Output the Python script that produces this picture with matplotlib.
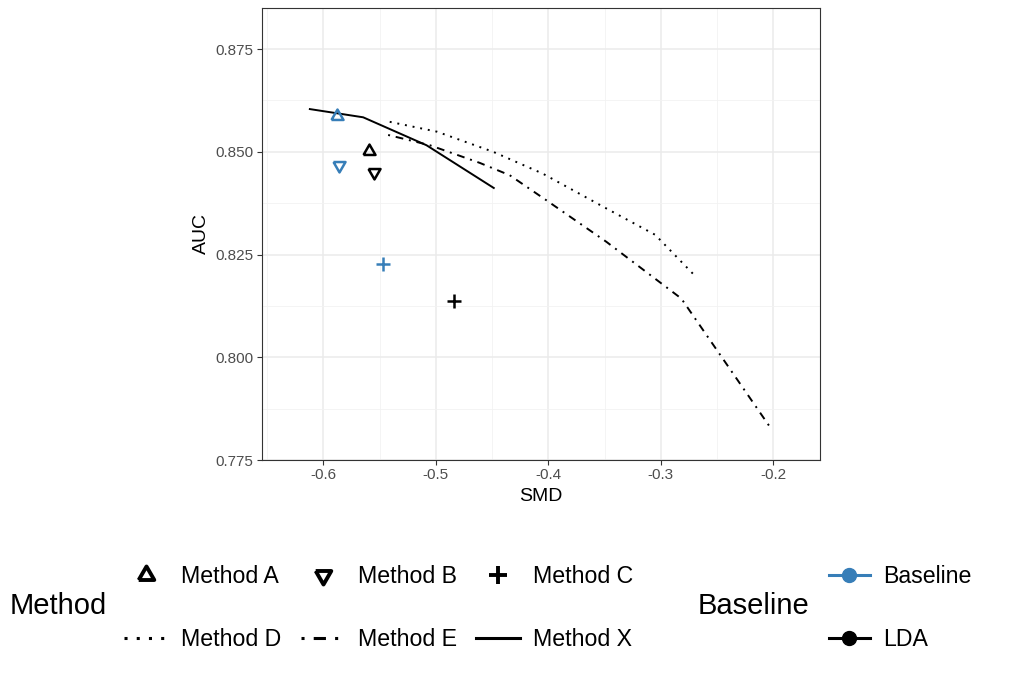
import matplotlib
matplotlib.use("Agg")
import matplotlib.pyplot as plt
from matplotlib.lines import Line2D
import numpy as np

plt.rcParams['font.family'] = ['Liberation Sans', 'DejaVu Sans']

# ---------------- data ----------------
# single-point methods: (SMD, AUC) for each baseline
point_methods = ["Method A", "Method B", "Method C"]
baseline_smd = [-0.5877, -0.5861, -0.5473]
baseline_auc = [0.8587, 0.8469, 0.8228]
lda_smd = [-0.5592, -0.5551, -0.4837]
lda_auc = [0.8502, 0.8451, 0.8137]

# curve methods
methodD_smd = [-0.541, -0.499, -0.449, -0.405, -0.351, -0.305, -0.2685]
methodD_auc = [0.8573, 0.8549, 0.8500, 0.8447, 0.8366, 0.8298, 0.8195]
methodE_smd = [-0.5424, -0.5053, -0.4609, -0.4343, -0.4017, -0.3484, -0.2818, -0.2019]
methodE_auc = [0.8541, 0.8516, 0.8473, 0.8443, 0.8382, 0.8281, 0.8143, 0.7826]
methodX_smd = [-0.612, -0.5646, -0.5083, -0.4485]
methodX_auc = [0.8604, 0.8584, 0.8516, 0.8412]

x_ticks = [-0.6, -0.5, -0.4, -0.3, -0.2]
y_ticks = [0.775, 0.800, 0.825, 0.850, 0.875]

# ---------------- styles ----------------
BLUE = "#377EB8"
BLACK = "#000000"
tri_up = [(-1, -0.577), (1, -0.577), (0, 1.155), (-1, -0.577)]
tri_dn = [(-1, 0.577), (1, 0.577), (0, -1.155), (-1, 0.577)]
shapes = {"Method A": tri_up, "Method B": tri_dn, "Method C": "+"}
msize = {"Method A": 10, "Method B": 10, "Method C": 10.5}

W, H = 1027, 674
fig = plt.figure(figsize=(W / 100, H / 100), dpi=100)
ax = fig.add_axes([261.7 / W, 1 - 460 / H, (820 - 261.7) / W, (460 - 8) / H])

ax.set_xlim(-0.6548, -0.1585)
ax.set_ylim(0.775, 0.885)

# grid
ax.set_xticks(x_ticks)
ax.set_yticks(y_ticks)
ax.set_xticks([-0.65, -0.55, -0.45, -0.35, -0.25], minor=True)
ax.set_yticks([0.7875, 0.8125, 0.8375, 0.8625], minor=True)
ax.grid(True, which='major', color='#EBEBEB', lw=1.1, zorder=0)
ax.grid(True, which='minor', color='#F2F2F2', lw=0.6, zorder=0)
ax.set_axisbelow(True)
ax.tick_params(which='minor', length=0)
ax.tick_params(which='major', length=3.6, width=0.8, color='#333333',
               labelcolor='#4D4D4D', labelsize=11, pad=2.5)
ax.set_xticklabels([f"{v:g}" for v in x_ticks])
ax.set_yticklabels([f"{v:.3f}" for v in y_ticks])
for s in ax.spines.values():
    s.set_color('#333333')
    s.set_linewidth(0.8)

# lines
LW = 1.4
ax.plot(methodD_smd, methodD_auc, color=BLACK, lw=LW, linestyle=(0, (1, 3)),
        dash_capstyle='butt', zorder=3)
ax.plot(methodE_smd, methodE_auc, color=BLACK, lw=LW, linestyle=(0, (1, 3, 4, 3)),
        dash_capstyle='butt', zorder=3)
ax.plot(methodX_smd, methodX_auc, color=BLACK, lw=LW, linestyle='-', zorder=3)

# points
for i, m in enumerate(point_methods):
    ax.plot(baseline_smd[i], baseline_auc[i], marker=shapes[m], ms=msize[m],
            mfc='none', mec=BLUE, mew=1.8, linestyle='none', zorder=4)
    ax.plot(lda_smd[i], lda_auc[i], marker=shapes[m], ms=msize[m],
            mfc='none', mec=BLACK, mew=1.8, linestyle='none', zorder=4)

ax.set_xlabel("SMD", fontsize=14, labelpad=4)
ax.set_ylabel("AUC", fontsize=14, labelpad=4)

# ---------------- legends ----------------
LLW = 2.2
h = {
    "Method A": Line2D([], [], marker=tri_up, ms=13, mfc='none', mec=BLACK, mew=2.8, ls='none'),
    "Method B": Line2D([], [], marker=tri_dn, ms=13, mfc='none', mec=BLACK, mew=2.8, ls='none'),
    "Method C": Line2D([], [], marker='+', ms=13, mec=BLACK, mew=2.8, ls='none'),
    "Method D": Line2D([], [], color=BLACK, lw=LLW, ls=(0, (1, 3)), dash_capstyle='butt'),
    "Method E": Line2D([], [], color=BLACK, lw=LLW, ls=(0, (1, 3, 4, 3)), dash_capstyle='butt'),
    "Method X": Line2D([], [], color=BLACK, lw=LLW, ls='-'),
}
order = ["Method A", "Method D", "Method B", "Method E", "Method C", "Method X"]
LEG_Y = 1 - 608 / H
leg1 = fig.legend([h[k] for k in order], order, ncol=3, loc='center left',
                  bbox_to_anchor=(124 / W, LEG_Y), frameon=False,
                  fontsize=16.7, handlelength=1.9, handletextpad=0.55,
                  columnspacing=0.85, labelspacing=1.7, borderpad=0,
                  borderaxespad=0)
fig.text(10 / W, 1 - 606.5 / H, "Method", fontsize=21, va='center', ha='left')

bh = [Line2D([], [], color=BLUE, lw=2.2, marker='o', ms=10),
      Line2D([], [], color=BLACK, lw=2.2, marker='o', ms=10)]
leg2 = fig.legend(bh, ["Baseline", "LDA"], loc='center left',
                  bbox_to_anchor=(829 / W, LEG_Y), frameon=False,
                  fontsize=16.7, handlelength=1.75, handletextpad=0.6,
                  labelspacing=1.7, borderpad=0, borderaxespad=0)
fig.text(698 / W, 1 - 606.5 / H, "Baseline", fontsize=21, va='center', ha='left')

fig.savefig("out.png", dpi=100)
